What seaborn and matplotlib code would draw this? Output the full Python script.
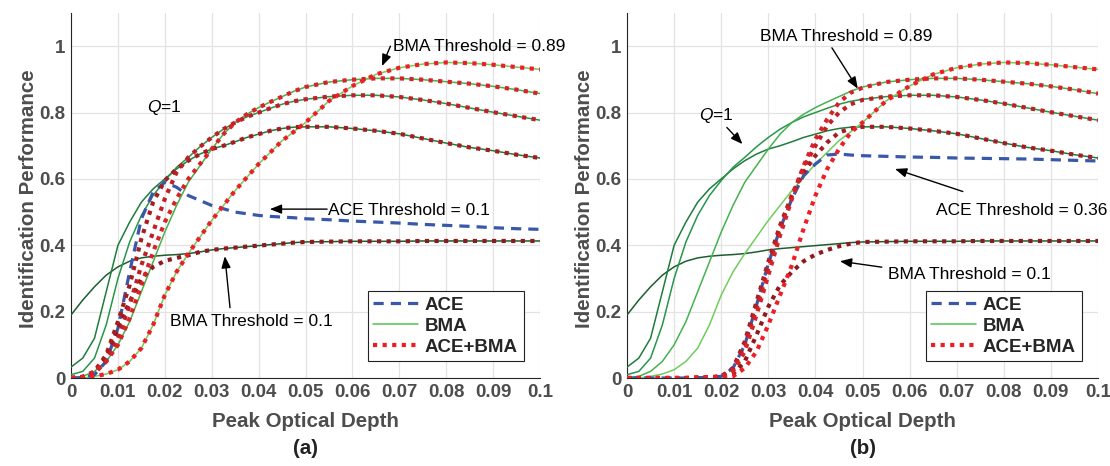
import matplotlib
matplotlib.use("Agg")
import matplotlib.pyplot as plt
import seaborn as sns
import pandas as pd
from matplotlib.lines import Line2D

# ---------------- data ----------------
X = [0, 0.0025, 0.005, 0.0075, 0.01, 0.0125, 0.015, 0.0175, 0.02, 0.0225, 0.025,
     0.0275, 0.03, 0.0325, 0.035, 0.0375, 0.04, 0.0425, 0.045, 0.0475, 0.05,
     0.055, 0.06, 0.065, 0.07, 0.075, 0.08, 0.085, 0.09, 0.095, 0.1]

# BMA curves (shared by both panels), thresholds from 0.1 to 0.89
BMA_1 = [0.19, 0.235, 0.275, 0.31, 0.335, 0.352, 0.362, 0.367, 0.37, 0.372, 0.375,
         0.38, 0.386, 0.39, 0.393, 0.396, 0.399, 0.402, 0.405, 0.408, 0.41,
         0.411, 0.412, 0.412, 0.412, 0.413, 0.413, 0.413, 0.413, 0.413, 0.413]
BMA_2 = [0.033, 0.06, 0.12, 0.26, 0.40, 0.47, 0.53, 0.57, 0.60, 0.63, 0.655,
         0.675, 0.69, 0.70, 0.712, 0.725, 0.735, 0.745, 0.752, 0.756, 0.757,
         0.757, 0.752, 0.745, 0.736, 0.722, 0.708, 0.695, 0.685, 0.673, 0.663]
BMA_3 = [0.01, 0.02, 0.06, 0.16, 0.30, 0.41, 0.49, 0.55, 0.595, 0.635, 0.665,
         0.697, 0.725, 0.75, 0.77, 0.787, 0.80, 0.813, 0.825, 0.834, 0.84,
         0.848, 0.852, 0.852, 0.847, 0.838, 0.827, 0.814, 0.801, 0.789, 0.777]
BMA_4 = [0.0, 0.005, 0.02, 0.05, 0.10, 0.17, 0.26, 0.35, 0.44, 0.52, 0.59,
         0.64, 0.69, 0.735, 0.77, 0.795, 0.815, 0.832, 0.848, 0.864, 0.877,
         0.892, 0.899, 0.903, 0.903, 0.899, 0.893, 0.887, 0.879, 0.869, 0.857]
BMA_5 = [0.0, 0.0, 0.005, 0.012, 0.025, 0.05, 0.09, 0.16, 0.25, 0.32, 0.375,
         0.425, 0.475, 0.52, 0.565, 0.605, 0.645, 0.68, 0.715, 0.742, 0.77,
         0.835, 0.88, 0.915, 0.935, 0.946, 0.951, 0.949, 0.944, 0.937, 0.93]

# panel (a): ACE threshold = 0.1
ACE_A = [0.0, 0.001, 0.01, 0.05, 0.15, 0.32, 0.48, 0.56, 0.59, 0.575, 0.55,
         0.535, 0.52, 0.51, 0.50, 0.495, 0.49, 0.487, 0.485, 0.483, 0.48,
         0.477, 0.473, 0.47, 0.467, 0.463, 0.46, 0.457, 0.453, 0.45, 0.448]
ACEBMA_A1 = [0.0, 0.003, 0.015, 0.06, 0.15, 0.23, 0.30, 0.335, 0.353, 0.362, 0.37,
             0.38, 0.386, 0.39, 0.393, 0.396, 0.399, 0.402, 0.405, 0.408, 0.41,
             0.411, 0.412, 0.412, 0.412, 0.413, 0.413, 0.413, 0.413, 0.413, 0.413]
ACEBMA_A2 = [0.0, 0.003, 0.02, 0.07, 0.17, 0.28, 0.42, 0.53, 0.595, 0.63, 0.655,
             0.675, 0.69, 0.70, 0.712, 0.725, 0.735, 0.745, 0.752, 0.756, 0.757,
             0.757, 0.752, 0.745, 0.736, 0.722, 0.708, 0.695, 0.685, 0.673, 0.663]
ACEBMA_A3 = [0.0, 0.002, 0.015, 0.05, 0.12, 0.22, 0.34, 0.44, 0.54, 0.62, 0.665,
             0.697, 0.725, 0.75, 0.77, 0.787, 0.80, 0.813, 0.825, 0.834, 0.84,
             0.848, 0.852, 0.852, 0.847, 0.838, 0.827, 0.814, 0.801, 0.789, 0.777]
ACEBMA_A4 = [0.0, 0.004, 0.018, 0.05, 0.10, 0.18, 0.28, 0.38, 0.47, 0.54, 0.60,
             0.645, 0.69, 0.735, 0.77, 0.795, 0.815, 0.832, 0.848, 0.864, 0.877,
             0.892, 0.899, 0.903, 0.903, 0.899, 0.893, 0.887, 0.879, 0.869, 0.857]
ACEBMA_A5 = [0.0, 0.0, 0.005, 0.012, 0.025, 0.05, 0.09, 0.16, 0.25, 0.32, 0.375,
             0.425, 0.475, 0.52, 0.565, 0.605, 0.645, 0.68, 0.715, 0.742, 0.77,
             0.835, 0.88, 0.915, 0.935, 0.946, 0.951, 0.949, 0.944, 0.937, 0.93]

# panel (b): ACE threshold = 0.36
ACE_B = [0.0, 0.0, 0.0, 0.0, 0.0, 0.0, 0.001, 0.002, 0.005, 0.03, 0.10,
         0.22, 0.345, 0.45, 0.54, 0.61, 0.645, 0.672, 0.675, 0.672, 0.67,
         0.668, 0.666, 0.665, 0.663, 0.662, 0.661, 0.66, 0.658, 0.656, 0.654]
ACEBMA_B1 = [0.0, 0.0, 0.0, 0.0, 0.0, 0.0, 0.001, 0.002, 0.004, 0.012, 0.05,
             0.13, 0.215, 0.28, 0.32, 0.352, 0.372, 0.386, 0.397, 0.405, 0.41,
             0.411, 0.412, 0.412, 0.412, 0.413, 0.413, 0.413, 0.413, 0.413, 0.413]
ACEBMA_B2 = [0.0, 0.0, 0.0, 0.0, 0.0, 0.0, 0.001, 0.002, 0.005, 0.03, 0.11,
             0.23, 0.35, 0.46, 0.55, 0.62, 0.67, 0.71, 0.74, 0.752, 0.757,
             0.757, 0.752, 0.745, 0.736, 0.722, 0.708, 0.695, 0.685, 0.673, 0.663]
ACEBMA_B3 = [0.0, 0.0, 0.0, 0.0, 0.0, 0.0, 0.001, 0.002, 0.005, 0.025, 0.10,
             0.21, 0.33, 0.45, 0.55, 0.635, 0.70, 0.76, 0.80, 0.825, 0.838,
             0.848, 0.852, 0.852, 0.847, 0.838, 0.827, 0.814, 0.801, 0.789, 0.777]
ACEBMA_B4 = [0.0, 0.0, 0.0, 0.0, 0.0, 0.0, 0.001, 0.002, 0.004, 0.02, 0.08,
             0.19, 0.31, 0.43, 0.54, 0.64, 0.72, 0.78, 0.83, 0.86, 0.875,
             0.892, 0.899, 0.903, 0.903, 0.899, 0.893, 0.887, 0.879, 0.869, 0.857]
ACEBMA_B5 = [0.0, 0.0, 0.0, 0.0, 0.0, 0.0, 0.0, 0.001, 0.002, 0.005, 0.03,
             0.08, 0.16, 0.25, 0.34, 0.45, 0.55, 0.63, 0.69, 0.74, 0.77,
             0.835, 0.88, 0.915, 0.935, 0.946, 0.951, 0.949, 0.944, 0.937, 0.93]

X_TICKS = [0, 0.01, 0.02, 0.03, 0.04, 0.05, 0.06, 0.07, 0.08, 0.09, 0.1]
X_TICKLABELS = ["0", "0.01", "0.02", "0.03", "0.04", "0.05", "0.06", "0.07", "0.08", "0.09", "0.1"]
Y_TICKS = [0, 0.2, 0.4, 0.6, 0.8, 1.0]
Y_TICKLABELS = ["0", "0.2", "0.4", "0.6", "0.8", "1"]

# ---------------- style ----------------
sns.set_style("white")
plt.rcParams["font.family"] = ["Liberation Sans", "DejaVu Sans"]
plt.rcParams["mathtext.fontset"] = "custom"
plt.rcParams["mathtext.it"] = "Liberation Sans:italic"
plt.rcParams["mathtext.rm"] = "Liberation Sans"

GREENS = ["#1d5e30", "#1f7d3c", "#27964a", "#45b24e", "#6fcd5c"]
REDS = ["#8e1a1e", "#a51c21", "#bf1f25", "#d82228", "#ef1d26"]
BLUE = "#3a58aa"
TICK_GRAY = "#4d4d4d"

BMA = [BMA_1, BMA_2, BMA_3, BMA_4, BMA_5]
PANELS = [
    dict(ace=ACE_A, red=[ACEBMA_A1, ACEBMA_A2, ACEBMA_A3, ACEBMA_A4, ACEBMA_A5], tag="(a)"),
    dict(ace=ACE_B, red=[ACEBMA_B1, ACEBMA_B2, ACEBMA_B3, ACEBMA_B4, ACEBMA_B5], tag="(b)"),
]

fig = plt.figure(figsize=(11.1, 4.66), dpi=100)
ax_a = fig.add_axes([0.064, 0.1888, 0.4225, 0.7833])
ax_b = fig.add_axes([0.5649, 0.1888, 0.4243, 0.7833])

for ax, p in zip([ax_a, ax_b], PANELS):
    for i, vals in enumerate(BMA):
        sns.lineplot(x=X, y=vals, ax=ax, color=GREENS[i], lw=1.1, zorder=3)
    sns.lineplot(x=X, y=p["ace"], ax=ax, color=BLUE, lw=2.3,
                 linestyle=(0, (3.2, 2.2)), zorder=4)
    for i, vals in enumerate(p["red"]):
        sns.lineplot(x=X, y=vals, ax=ax, color=REDS[i], lw=3.0,
                     linestyle=(0, (1, 1.3)), zorder=5)

    ax.set_xlim(0, 0.1)
    ax.set_ylim(0, 1.1)
    ax.set_xticks(X_TICKS)
    ax.set_xticklabels(X_TICKLABELS)
    ax.set_yticks(Y_TICKS)
    ax.set_yticklabels(Y_TICKLABELS)
    ax.grid(True, color="#e3e3e3", lw=0.9, zorder=0)
    ax.set_axisbelow(True)
    for s in ["top", "right"]:
        ax.spines[s].set_visible(False)
    for s in ["left", "bottom"]:
        ax.spines[s].set_color("#262626")
        ax.spines[s].set_linewidth(0.8)
    ax.tick_params(direction="in", length=4, width=0.8, color="#262626",
                   labelsize=13.5, labelcolor=TICK_GRAY, pad=4)
    for lab in ax.get_xticklabels() + ax.get_yticklabels():
        lab.set_fontweight("bold")
    ax.set_xlabel("Peak Optical Depth", fontsize=14.8, fontweight="bold", color=TICK_GRAY)
    ax.set_ylabel("Identification Performance", fontsize=14.8, fontweight="bold", color=TICK_GRAY)
    ax.xaxis.set_label_coords(0.5, -0.093)
    ax.yaxis.set_label_coords(-0.071, 0.49)
    ax.text(0.5, -0.168, p["tag"], transform=ax.transAxes, ha="center", va="top",
            fontsize=14.8, fontweight="bold", color="#222222")

    handles = [
        Line2D([], [], color=BLUE, lw=2.3, linestyle=(0, (3.2, 2.2))),
        Line2D([], [], color="#55c04f", lw=1.1),
        Line2D([], [], color="#ee1c25", lw=3.0, linestyle=(0, (1, 1.3))),
    ]
    leg = ax.legend(handles, ["ACE", "BMA", "ACE+BMA"], loc="lower right",
                    bbox_to_anchor=(0.985, 0.02), fancybox=False, framealpha=1,
                    edgecolor="#222222", handlelength=2.4, handletextpad=0.35,
                    labelspacing=0.2, borderpad=0.3,
                    prop={"weight": "bold", "size": 13.5})
    leg.get_frame().set_linewidth(0.8)
    leg.set_zorder(10)

ARROW = dict(arrowstyle="-|>,head_length=0.7,head_width=0.28", color="black", lw=1.0,
             shrinkA=0, shrinkB=0)
TXT = dict(fontsize=12.5, color="black")

# panel (a) annotations
ax_a.text(0.0162, 0.815, "$Q$=1", va="center", ha="left", **TXT)
ax_a.text(0.0686, 1.0, "BMA Threshold = 0.89", va="center", ha="left", **TXT)
ax_a.annotate("", xy=(0.0663, 0.94), xytext=(0.0681, 1.0), arrowprops=ARROW)
ax_a.text(0.0548, 0.506, "ACE Threshold = 0.1", va="center", ha="left", **TXT)
ax_a.annotate("", xy=(0.0424, 0.509), xytext=(0.0546, 0.509), arrowprops=ARROW)
ax_a.text(0.0211, 0.17, "BMA Threshold = 0.1", va="center", ha="left", **TXT)
ax_a.annotate("", xy=(0.0328, 0.367), xytext=(0.0339, 0.212), arrowprops=ARROW)

# panel (b) annotations
ax_b.text(0.0152, 0.79, "$Q$=1", va="center", ha="left", **TXT)
ax_b.annotate("", xy=(0.0245, 0.705), xytext=(0.0212, 0.755), arrowprops=ARROW)
ax_b.text(0.0282, 1.03, "BMA Threshold = 0.89", va="center", ha="left", **TXT)
ax_b.annotate("", xy=(0.049, 0.872), xytext=(0.0435, 0.995), arrowprops=ARROW)
ax_b.text(0.0657, 0.506, "ACE Threshold = 0.36", va="center", ha="left", **TXT)
ax_b.annotate("", xy=(0.0569, 0.63), xytext=(0.0713, 0.562), arrowprops=ARROW)
ax_b.text(0.0555, 0.312, "BMA Threshold = 0.1", va="center", ha="left", **TXT)
ax_b.annotate("", xy=(0.0452, 0.352), xytext=(0.0541, 0.334), arrowprops=ARROW)

fig.savefig("out.png", dpi=100)
